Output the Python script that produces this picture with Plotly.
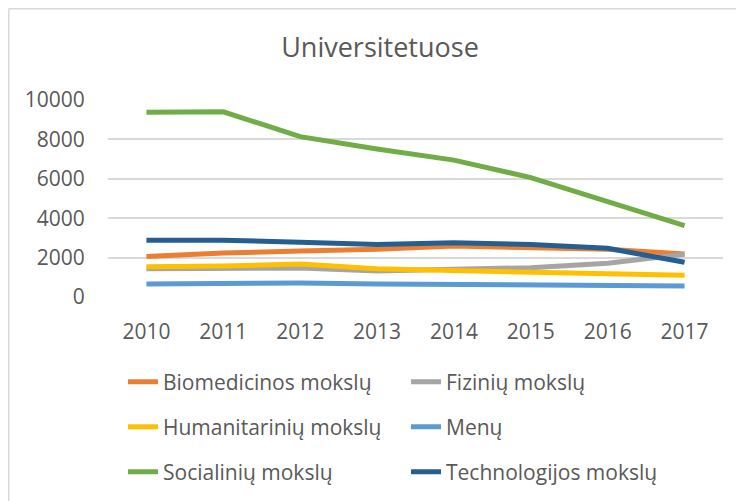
import plotly.graph_objects as go

years = ["2010", "2011", "2012", "2013", "2014", "2015", "2016", "2017"]
series_names = ["Biomedicinos mokslų", "Fizinių mokslų", "Humanitarinių mokslų",
                "Menų", "Socialinių mokslų", "Technologijos mokslų"]
biomedicinos = [2050, 2230, 2330, 2420, 2590, 2520, 2420, 2180]
fiziniu = [1440, 1440, 1470, 1320, 1400, 1490, 1710, 2170]
humanitariniu = [1540, 1570, 1680, 1440, 1340, 1250, 1170, 1100]
menu = [660, 710, 710, 660, 640, 590, 610, 560]
socialiniu = [9380, 9400, 8140, 7510, 6950, 6060, 4840, 3620]
technologijos = [2880, 2880, 2780, 2660, 2760, 2660, 2470, 1760]
y_ticks = [0, 2000, 4000, 6000, 8000, 10000]

values = [biomedicinos, fiziniu, humanitariniu, menu, socialiniu, technologijos]
colors = ["#ED7D31", "#A5A5A5", "#FFC000", "#5B9BD5", "#70AD47", "#255E91"]
legend_ids = ["legend", "legend", "legend2", "legend2", "legend3", "legend3"]

FONT = "Open Sans"
TXT = "#595959"

fig = go.Figure()
for name, vals, col, lg in zip(series_names, values, colors, legend_ids):
    fig.add_trace(go.Scatter(
        x=years, y=vals, name=name, mode="lines",
        line=dict(color=col, width=5), legend=lg,
    ))

# page body has an 8px margin; coordinates below are figure coordinates
W, H = 736, 493
L, R, T, B = 100, 21, 92, 204
row_y = [374, 419, 464]
legend_common = dict(
    orientation="h", xref="container", yref="container",
    x=115 / W, xanchor="left", yanchor="middle",
    entrywidth=238, entrywidthmode="pixels",
    font=dict(family=FONT, size=21, color=TXT),
    bgcolor="rgba(0,0,0,0)", borderwidth=0, traceorder="normal",
)

layout_legends = {}
for i, key in enumerate(["legend", "legend2", "legend3"]):
    d = dict(legend_common)
    d["y"] = 1 - row_y[i] / H
    layout_legends[key] = d

pw = W - L - R
ph = H - T - B
def px2x(px):
    return (px - L) / pw
def py2y(py):
    return (H - B - py) / ph

fig.update_layout(
    width=W, height=H,
    margin=dict(l=L, r=R, t=T, b=B),
    paper_bgcolor="white", plot_bgcolor="white",
    title=dict(text="Universitetuose", x=372 / W, xanchor="center",
               y=1 - 40 / H, yanchor="middle", yref="container",
               font=dict(family=FONT, size=27, color=TXT)),
    showlegend=True,
    xaxis=dict(
        type="category", range=[-0.5, 7.5], showgrid=False, zeroline=False,
        showline=False, ticks="outside", ticklen=16, tickcolor="rgba(0,0,0,0)",
        tickfont=dict(family=FONT, size=21, color=TXT),
    ),
    yaxis=dict(
        range=[0, 10000], tickvals=y_ticks, ticktext=[str(v) for v in y_ticks],
        showgrid=True, gridcolor="#D9D9D9", gridwidth=1.5, zeroline=False,
        showline=False, ticks="outside", ticklen=18, tickcolor="rgba(0,0,0,0)",
        tickfont=dict(family=FONT, size=21, color=TXT),
    ),
    shapes=[
        dict(type="line", xref="paper", yref="paper",
             x0=px2x(0.75), x1=px2x(0.75), y0=py2y(0.75), y1=py2y(520),
             line=dict(color="#D9D9D9", width=1.5)),
        dict(type="line", xref="paper", yref="paper",
             x0=px2x(0.75), x1=px2x(760), y0=py2y(0.75), y1=py2y(0.75),
             line=dict(color="#D9D9D9", width=1.5)),
    ],
    **layout_legends,
)

fig.write_html("out.html")
